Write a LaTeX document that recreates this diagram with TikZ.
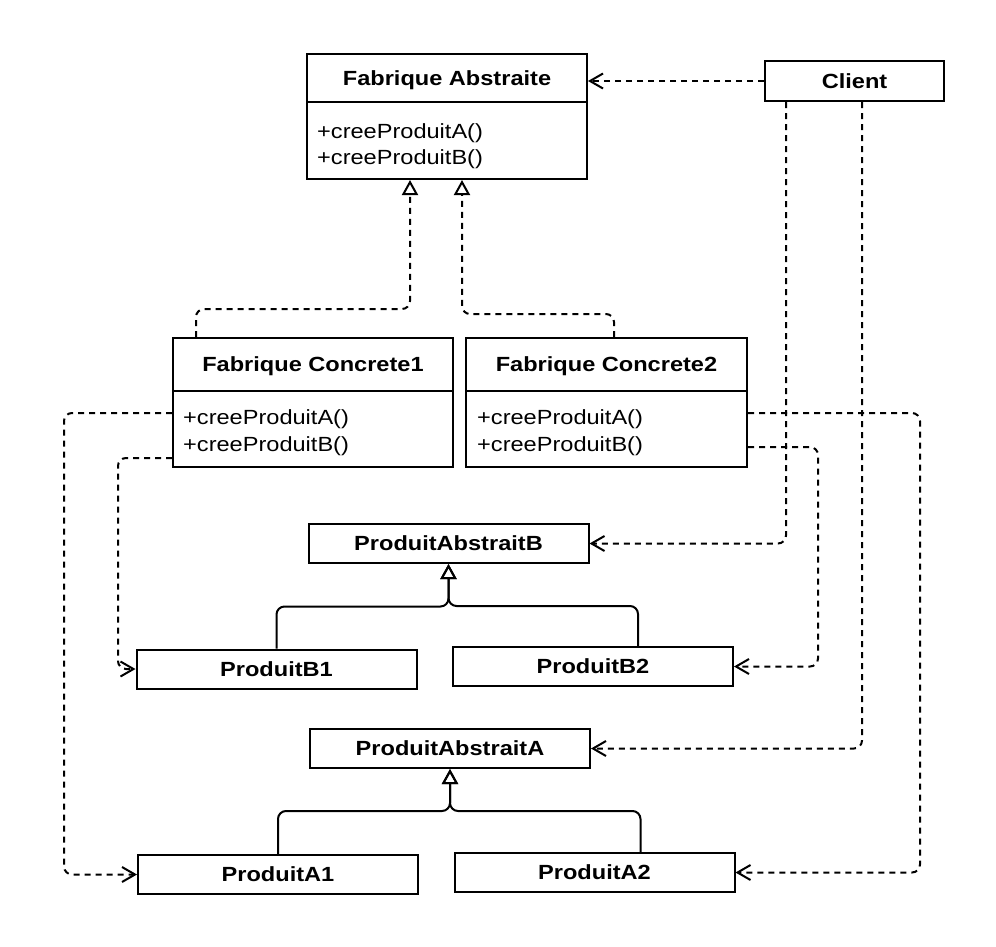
\documentclass[tikz,border=0pt]{standalone}
\usepackage{fontspec}
\setmainfont{Liberation Sans}[FakeStretch=1.15]
\usetikzlibrary{arrows.meta}
\usetikzlibrary{calc}
\newcommand{\umlfont}{\fontsize{20.5}{26}\selectfont}
\tikzset{classbox/.style={draw, line width=2pt, minimum width=280pt, inner sep=0pt}}
\tikzset{classtitle/.style={draw, line width=2pt, minimum width=280pt, inner sep=0pt, text depth=0pt, font=\umlfont\bfseries}}
\tikzset{method/.style={anchor=west, inner sep=0pt, font=\umlfont}}
\tikzset{prodbox/.style={draw, line width=2pt, minimum width=280pt, minimum height=39pt, inner sep=0pt, font=\umlfont\bfseries}}
\tikzset{dep/.style={line width=2pt, dash pattern=on 6pt off 5pt, rounded corners=8pt, -{Straight Barb[length=13pt,width=15pt]}}}
\tikzset{impl/.style={line width=2pt, dash pattern=on 6pt off 5pt, rounded corners=8pt, -{Triangle[open,length=15pt,width=16pt]}}}
\tikzset{inherit/.style={line width=2pt, rounded corners=8pt, -{Triangle[open,length=15pt,width=16pt]}}}

\begin{document}
\begin{tikzpicture}[x=1pt, y=-1pt]
   \useasboundingbox (0,0) rectangle (996,946);
   % abstract factory
   \node[classbox, minimum height=125pt] (fa) at (447,116.5) {};
   \node[classtitle, minimum height=48pt, anchor=north] (fa-title) at (fa.north) {Fabrique Abstraite};
   \node[method] (fa-a) at ([xshift=11pt,yshift=-30pt]fa-title.south west) {+creeProduitA()};
   \node[method] (fa-b) at ([yshift=-26pt]fa-a.west) {+creeProduitB()};

   % client
   \node[classbox, minimum width=179pt, minimum height=40pt, font=\umlfont\bfseries] (client) at (854.5,81) {Client};

   % concrete factories
   \node[classbox, minimum height=129pt] (fc1) at (313,402.5) {};
   \node[classtitle, minimum height=53pt, anchor=north] (fc1-title) at (fc1.north) {Fabrique Concrete1};
   \node[method] (fc1-a) at ([xshift=11pt,yshift=-27pt]fc1-title.south west) {+creeProduitA()};
   \node[method] (fc1-b) at ([yshift=-27pt]fc1-a.west) {+creeProduitB()};

   \node[classbox, minimum width=281pt, minimum height=129pt] (fc2) at (606.5,402.5) {};
   \node[classtitle, minimum width=281pt, minimum height=53pt, anchor=north] (fc2-title) at (fc2.north) {Fabrique Concrete2};
   \node[method] (fc2-a) at ([xshift=12pt,yshift=-27pt]fc2-title.south west) {+creeProduitA()};
   \node[method] (fc2-b) at ([yshift=-27pt]fc2-a.west) {+creeProduitB()};

   % products
   \node[prodbox] (pab) at (448.5,543.5) {ProduitAbstraitB};
   \node[prodbox] (pb1) at (276.5,669) {ProduitB1};
   \node[prodbox] (pb2) at (593,666.5) {ProduitB2};
   \node[prodbox] (paa) at (450,748.5) {ProduitAbstraitA};
   \node[prodbox] (pa1) at (278,874.5) {ProduitA1};
   \node[prodbox] (pa2) at (594.5,872.5) {ProduitA2};

   % client uses the abstract factory and products
   \draw[dep] (client) -- (fa.east |- client);
   \draw[dep] ([xshift=22pt]client.south west) |- (pab.east);
   \draw[dep] ([xshift=98pt]client.south west) |- (paa.east);

   % realisations
   \draw[impl] ([xshift=24pt]fc1.north west) -- ++(0,-28) -| ([xshift=104pt]fa.south west);
   \draw[impl] ([xshift=149pt]fc2.north west) -- ++(0,-23) -| ([xshift=156pt]fa.south west);

   % factories create products
   \draw[dep] ([yshift=-10.5pt]fc1.west) -- ++(-108,0) |- (pa1.west);
   \draw[dep] ([yshift=-55.5pt]fc1.west) -- ++(-54,0) |- (pb1.west);
   \draw[dep] ([yshift=-10.5pt]fc2.east) -- ++(172,0) |- (pa2.east);
   \draw[dep] ([yshift=-44.5pt]fc2.east) -- ++(70,0) |- (pb2.east);

   % inheritance
   \draw[inherit] (pb1.north) -- ++(0,-42) -| (pab.south);
   \draw[inherit] ([xshift=186pt]pb2.north west) -- ++(0,-40) -| (pab.south);
   \draw[inherit] (pa1.north) -- ++(0,-43) -| (paa.south);
   \draw[inherit] ([xshift=187pt]pa2.north west) -- ++(0,-41) -| (paa.south);
\end{tikzpicture}
\end{document}
